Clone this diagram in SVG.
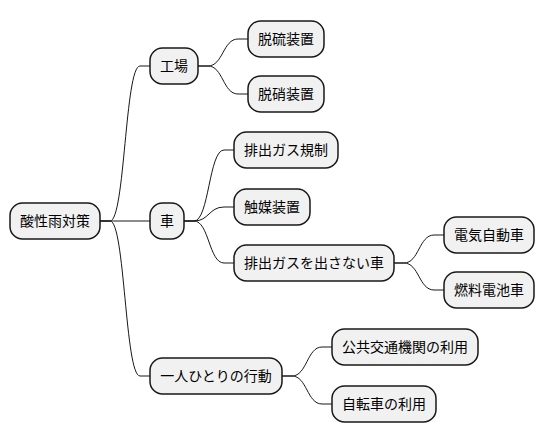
<svg xmlns="http://www.w3.org/2000/svg" width="544" height="443" viewBox="0 0 544 443">
<style>
.n rect{fill:#F1F1F1;stroke:#181818;stroke-width:1.5}
.n text{font-family:"Noto Sans CJK JP","Noto Sans",sans-serif;font-size:14px;fill:#000000;text-anchor:middle}
.c path{fill:none;stroke:#181818;stroke-width:1}
</style>
<rect width="544" height="443" fill="#FFFFFF"/>
<g class="c" id="connectors">
<path d="M100,221 L110,221 C125,221 125,66 140,66 L150,66"/>
<path d="M100,221 L150,221"/>
<path d="M100,221 L110,221 C125,221 125,376 140,376 L150,376"/>
<path d="M198,66 L208,66 C223,66 223,39 238,39 L248,39"/>
<path d="M198,66 L208,66 C223,66 223,94 238,94 L248,94"/>
<path d="M184,221 L194,221 C209,221 209,150 224,150 L234,150"/>
<path d="M184,221 L194,221 C209,221 209,207 224,207 L234,207"/>
<path d="M184,221 L194,221 C209,221 209,263 224,263 L234,263"/>
<path d="M394,263 L404,263 C419,263 419,235 434,235 L444,235"/>
<path d="M394,263 L404,263 C419,263 419,290 434,290 L444,290"/>
<path d="M282,376 L292,376 C307,376 307,347 322,347 L332,347"/>
<path d="M282,376 L292,376 C307,376 307,404 322,404 L332,404"/>
</g>
<g class="n" id="root"><rect x="10" y="203" width="90" height="36" rx="12.5"/><text x="55" y="226">酸性雨対策</text></g>
<g class="n" id="factory"><rect x="150" y="48" width="48" height="36" rx="12.5"/><text x="174" y="71">工場</text></g>
<g class="n" id="desulf"><rect x="248" y="21" width="76" height="36" rx="12.5"/><text x="286" y="44">脱硫装置</text></g>
<g class="n" id="denitr"><rect x="248" y="76" width="76" height="36" rx="12.5"/><text x="286" y="99">脱硝装置</text></g>
<g class="n" id="car"><rect x="150" y="203" width="34" height="36" rx="12.5"/><text x="167" y="226">車</text></g>
<g class="n" id="exhaust-reg"><rect x="234" y="132" width="104" height="36" rx="12.5"/><text x="286" y="155">排出ガス規制</text></g>
<g class="n" id="catalyst"><rect x="234" y="189" width="76" height="36" rx="12.5"/><text x="272" y="212">触媒装置</text></g>
<g class="n" id="zero-emission"><rect x="234" y="245" width="160" height="36" rx="12.5"/><text x="314" y="268">排出ガスを出さない車</text></g>
<g class="n" id="ev"><rect x="444" y="217" width="90" height="36" rx="12.5"/><text x="489" y="240">電気自動車</text></g>
<g class="n" id="fcv"><rect x="444" y="272" width="90" height="36" rx="12.5"/><text x="489" y="295">燃料電池車</text></g>
<g class="n" id="individual"><rect x="150" y="358" width="132" height="36" rx="12.5"/><text x="216" y="381">一人ひとりの行動</text></g>
<g class="n" id="public-transport"><rect x="332" y="329" width="146" height="36" rx="12.5"/><text x="405" y="352">公共交通機関の利用</text></g>
<g class="n" id="bicycle"><rect x="332" y="386" width="104" height="36" rx="12.5"/><text x="384" y="409">自転車の利用</text></g>
</svg>
